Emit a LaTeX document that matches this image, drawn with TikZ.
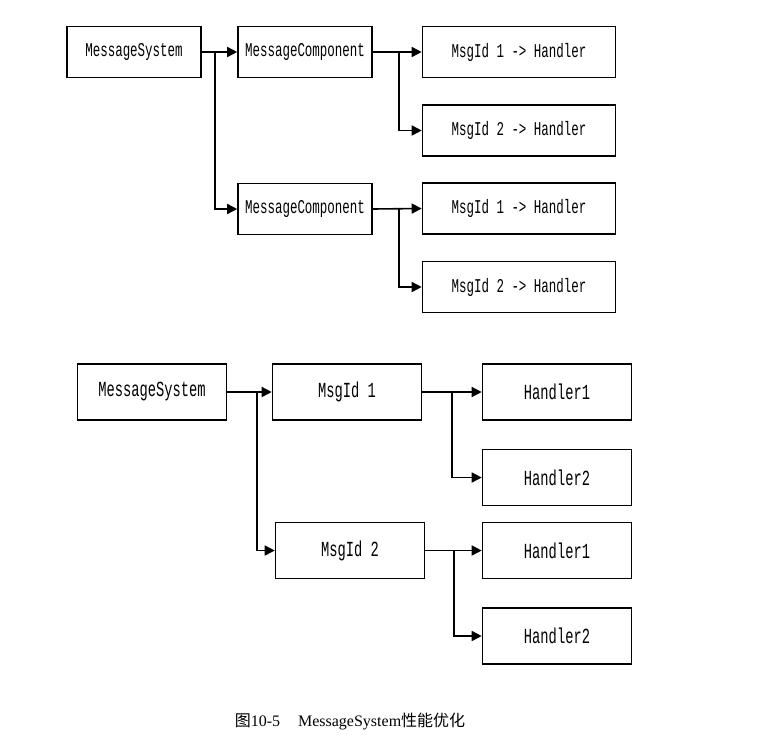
\documentclass[tikz,border=0pt]{standalone}
\usepackage{fontspec}
\setmainfont{Liberation Serif}
\newfontfamily\boxfont[FakeStretch=0.64]{Liberation Mono}
\newfontfamily\cjk{Noto Sans CJK SC}
\usetikzlibrary{arrows.meta}
\begin{document}
\begin{tikzpicture}[x=1pt,y=-1pt,
  box/.style={draw,line width=1.6pt,inner sep=0pt,font=\boxfont\fontsize{19.5}{19.5}\selectfont},
  topbox/.style={box,minimum width=134pt,minimum height=51pt},
  tophbox/.style={box,minimum width=193pt,minimum height=51pt},
  botbox/.style={box,minimum width=149pt,minimum height=56pt,font=\boxfont\fontsize{21.5}{21.5}\selectfont},
  conn/.style={line width=1.6pt},
  arr/.style={conn,-{Triangle[length=10pt,width=10pt]}}]
\useasboundingbox (0,0) rectangle (757,750);
% top diagram
\node[topbox] (ms) at (134,52) {MessageSystem};
\node[topbox] (mca) at (305,52) {MessageComponent};
\node[topbox] (mcb) at (305,209) {MessageComponent};
\node[tophbox] (ha1) at (519,52) {MsgId 1 -> Handler};
\node[tophbox] (ha2) at (519,130.5) {MsgId 2 -> Handler};
\node[tophbox] (hb1) at (519,208.5) {MsgId 1 -> Handler};
\node[tophbox] (hb2) at (519,287) {MsgId 2 -> Handler};
\coordinate (b0) at (215,52);
\coordinate (ba) at (399,52);
\coordinate (bb) at (399,209);
\draw[arr] (ms.east) -- (mca.west);
\draw[arr] (b0) |- (mcb.west);
\draw[arr] (mca.east) -- (ha1.west);
\draw[arr] (ba) |- (ha2.west);
\draw[arr] (mcb.east) -- (hb1.west);
\draw[arr] (bb) |- (hb2.west);
% bottom diagram
\node[botbox] (ms2) at (152,392) {MessageSystem};
\node[botbox] (m1) at (347,392) {MsgId 1};
\node[botbox] (m2) at (350,550.5) {MsgId 2};
\node[botbox] (h11) at (557,392) {Handler1};
\node[botbox] (h12) at (557,477.5) {Handler2};
\node[botbox] (h21) at (557,550.5) {Handler1};
\node[botbox] (h22) at (557,636) {Handler2};
\coordinate (c0) at (257,392);
\coordinate (c1) at (452,392);
\coordinate (c2) at (454,550.5);
\draw[arr] (ms2.east) -- (m1.west);
\draw[arr] (c0) |- (m2.west);
\draw[arr] (m1.east) -- (h11.west);
\draw[arr] (c1) |- (h12.west);
\draw[arr] (m2.east) -- (h21.west);
\draw[arr] (c2) |- (h22.west);
% caption
\node[font=\fontsize{16}{16}\selectfont] (cap) at (350,721) {{\cjk 图}10-5\hspace{18pt}MessageSystem{\cjk 性能优化}};
\end{tikzpicture}
\end{document}
